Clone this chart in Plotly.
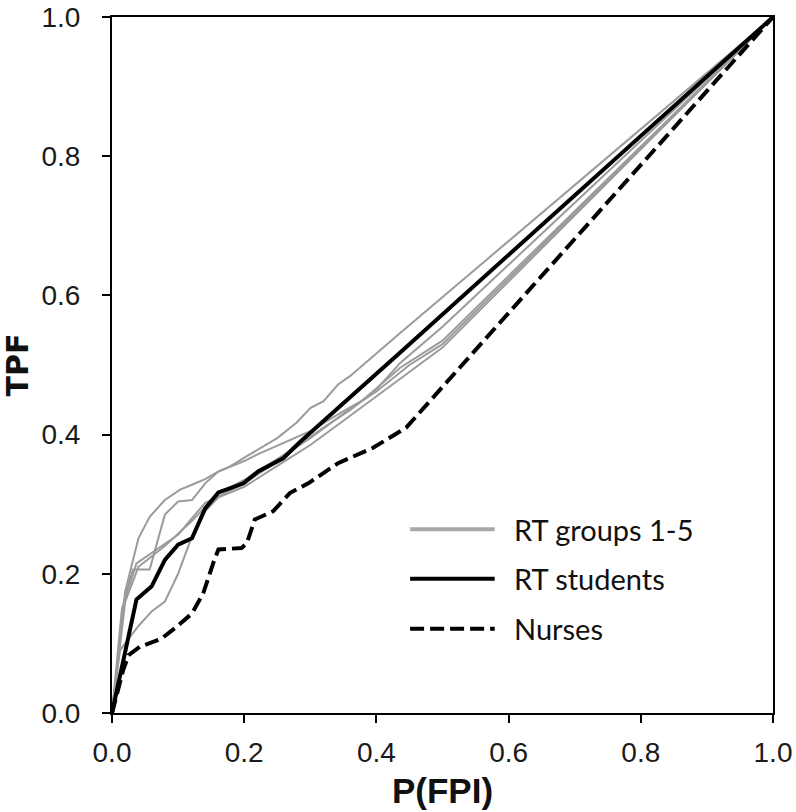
import plotly.graph_objects as go

# ---- data ----
g1_x = [0, 0.020, 0.040, 0.057, 0.080, 0.103, 0.121, 0.141, 0.161, 0.178, 0.204, 0.221, 0.250, 0.279, 0.300, 0.320, 0.342, 0.360, 0.400, 0.436, 1.0]
g1_y = [0, 0.175, 0.251, 0.282, 0.306, 0.321, 0.328, 0.336, 0.347, 0.354, 0.369, 0.379, 0.395, 0.417, 0.438, 0.448, 0.472, 0.484, 0.516, 0.546, 1.0]

g2_x = [0, 0.020, 0.032, 0.057, 0.080, 0.100, 0.121, 0.141, 0.161, 0.200, 0.221, 0.260, 0.300, 0.340, 0.380, 0.436, 0.500, 1.0]
g2_y = [0, 0.170, 0.206, 0.206, 0.285, 0.304, 0.306, 0.330, 0.347, 0.362, 0.372, 0.388, 0.405, 0.428, 0.450, 0.496, 0.535, 1.0]

g3_x = [0, 0.015, 0.037, 0.060, 0.100, 0.121, 0.141, 0.161, 0.200, 0.240, 0.280, 0.320, 0.360, 0.400, 0.436, 0.500, 1.0]
g3_y = [0, 0.150, 0.215, 0.230, 0.256, 0.280, 0.302, 0.311, 0.330, 0.355, 0.382, 0.410, 0.435, 0.465, 0.503, 0.555, 1.0]

g4_x = [0, 0.020, 0.040, 0.080, 0.120, 0.160, 0.200, 0.250, 0.300, 0.350, 0.400, 0.450, 0.500, 1.0]
g4_y = [0, 0.160, 0.210, 0.240, 0.275, 0.315, 0.335, 0.365, 0.395, 0.430, 0.462, 0.500, 0.530, 1.0]

g5_x = [0, 0.012, 0.040, 0.060, 0.080, 0.100, 0.121, 0.141, 0.161, 0.200, 0.250, 0.300, 0.350, 0.400, 0.450, 0.500, 1.0]
g5_y = [0, 0.090, 0.125, 0.146, 0.160, 0.200, 0.254, 0.290, 0.310, 0.325, 0.355, 0.385, 0.420, 0.455, 0.490, 0.525, 1.0]

students_x = [0, 0.037, 0.060, 0.080, 0.100, 0.121, 0.141, 0.161, 0.199, 0.221, 0.259, 0.284, 0.436, 1.0]
students_y = [0, 0.163, 0.182, 0.220, 0.242, 0.251, 0.294, 0.317, 0.330, 0.347, 0.366, 0.389, 0.518, 1.0]

nurses_x = [0, 0.008, 0.017, 0.025, 0.042, 0.075, 0.098, 0.121, 0.138, 0.153, 0.161, 0.196, 0.204, 0.216, 0.244, 0.269, 0.297, 0.342, 0.395, 0.445, 1.0]
nurses_y = [0, 0.030, 0.062, 0.083, 0.095, 0.107, 0.124, 0.143, 0.172, 0.215, 0.235, 0.237, 0.244, 0.278, 0.290, 0.316, 0.330, 0.359, 0.381, 0.410, 1.0]

tick_vals = [0, 0.2, 0.4, 0.6, 0.8, 1.0]
tick_text = ["0.0", "0.2", "0.4", "0.6", "0.8", "1.0"]

legend_labels = ["RT groups 1-5", "RT students", "Nurses"]

GRAY = "#9b9b9b"
TICK_FONT = dict(family="Liberation Sans, Arial, sans-serif", size=28, color="#1a1a1a")

fig = go.Figure()
for gx, gy in [(g1_x, g1_y), (g2_x, g2_y), (g3_x, g3_y), (g4_x, g4_y), (g5_x, g5_y)]:
    fig.add_trace(go.Scatter(x=gx, y=gy, mode="lines", line=dict(color=GRAY, width=2),
                             showlegend=False, hoverinfo="skip"))
fig.add_trace(go.Scatter(x=nurses_x, y=nurses_y, mode="lines",
                         line=dict(color="black", width=4, dash="14px,6px"), showlegend=False))
fig.add_trace(go.Scatter(x=students_x, y=students_y, mode="lines",
                         line=dict(color="black", width=4), showlegend=False))

# custom legend (long line samples as in the reference)
leg_y = [0.264, 0.193, 0.121]
leg_styles = [dict(color="#a8a8a8", width=4), dict(color="black", width=4),
              dict(color="black", width=4, dash="14px,6px")]
for ly, st, lab in zip(leg_y, leg_styles, legend_labels):
    fig.add_shape(type="line", xref="paper", yref="paper", x0=0.451, x1=0.579, y0=ly, y1=ly,
                  line=st)
    fig.add_annotation(xref="paper", yref="paper", x=0.605, y=ly, text=lab, showarrow=False,
                       xanchor="left", yanchor="middle",
                       font=dict(family="Lato, Carlito, Open Sans, sans-serif", size=29, color="#111"))

fig.update_layout(
    width=796, height=812,
    margin=dict(l=112, r=23, t=17, b=99, autoexpand=False),
    paper_bgcolor="white", plot_bgcolor="white",
    xaxis=dict(range=[0, 1], tickvals=tick_vals, ticktext=tick_text, ticks="outside", ticklen=8,
               tickwidth=2, tickcolor="black", showline=True, linecolor="black", linewidth=2,
               mirror=True, showgrid=False, zeroline=False, tickfont=TICK_FONT,
               ticklabelstandoff=5, ticklabeloverflow="allow", automargin=False,
               title=dict(text="<b>P(FPI)</b>", standoff=12,
                          font=dict(family="Liberation Sans, Arial, sans-serif", size=35, color="#111"))),
    yaxis=dict(range=[0, 1], tickvals=tick_vals, ticktext=tick_text, ticks="outside", ticklen=8,
               tickwidth=2, tickcolor="black", showline=True, linecolor="black", linewidth=2,
               mirror=True, showgrid=False, zeroline=False, tickfont=TICK_FONT,
               ticklabelstandoff=16, ticklabeloverflow="allow", automargin=False,
               title=dict(text="<b>TPF</b>", standoff=30,
                          font=dict(family="DejaVu Sans, sans-serif", size=30, color="#111"))),
)

fig.write_html("out.html", config={"displayModeBar": False},
               post_script="document.body.style.margin='0px';document.body.style.overflow='hidden';")
